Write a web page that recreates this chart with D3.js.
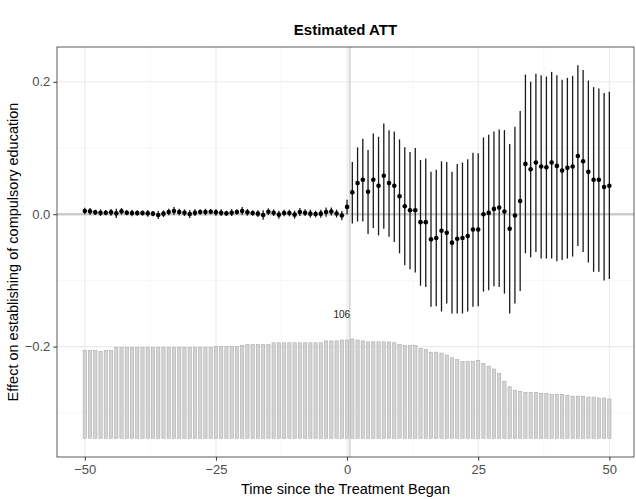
<!DOCTYPE html>
<html><head><meta charset="utf-8">
<script src="https://cdn.jsdelivr.net/npm/d3@7"></script>
<style>body{margin:0;background:#fff}svg{display:block}text{font-family:"Liberation Sans",Arial,Helvetica,sans-serif}</style>
</head><body>
<script>
// ---- data ----
const times = d3.range(-50, 51);
const estimates = [
 0.0048,0.0043,0.0028,0.0023,0.0023,0.0028,0.0013,0.0043,0.0023,0.0018,
 0.0018,0.0018,0.0013,0.0008,-0.0012,0.0008,0.0033,0.0048,0.0033,0.0023,
 0.0003,0.0023,0.0033,0.0033,0.0038,0.0028,0.0023,0.0013,0.0023,0.0033,
 0.0048,0.0028,0.0018,0.0008,-0.0012,0.0038,0.0023,-0.0007,0.0018,0.0018,
 -0.0007,0.0033,0.0023,0.0008,0.0003,0.0008,0.0033,0.004,0.001,-0.002,
 0.011,0.033,0.047,0.052,0.034,0.052,0.043,0.058,0.047,0.043,
 0.027,0.012,0.006,0.006,-0.012,-0.012,-0.038,-0.036,-0.025,-0.028,
 -0.043,-0.037,-0.036,-0.033,-0.023,-0.023,0.000,0.002,0.008,0.010,
 0.004,-0.022,-0.002,0.020,0.076,0.068,0.078,0.072,0.071,0.078,
 0.073,0.066,0.070,0.072,0.088,0.080,0.064,0.052,0.052,0.041,0.043
];
const ciLower = [
 -0.0002,-0.0007,-0.0012,-0.0027,-0.0017,-0.0022,-0.0057,-0.0007,-0.0017,-0.0032,
 -0.0022,-0.0022,-0.0037,-0.0032,-0.0072,-0.0042,-0.0017,-0.0012,-0.0017,-0.0027,
 -0.0057,-0.0027,-0.0007,-0.0017,-0.0002,-0.0022,-0.0027,-0.0027,-0.0027,-0.0007,
 -0.0012,-0.0022,-0.0022,-0.0042,-0.0082,-0.0012,-0.0027,-0.0067,-0.0032,-0.0032,
 -0.0067,-0.0027,-0.0027,-0.0052,-0.0047,-0.0052,-0.0037,-0.002,-0.005,-0.009,
 0.000,-0.014,-0.011,-0.011,-0.030,-0.021,-0.032,-0.022,-0.034,-0.042,
 -0.059,-0.077,-0.083,-0.088,-0.108,-0.110,-0.140,-0.139,-0.147,-0.135,
 -0.150,-0.150,-0.150,-0.147,-0.140,-0.139,-0.117,-0.115,-0.109,-0.110,
 -0.120,-0.150,-0.135,-0.116,-0.059,-0.065,-0.057,-0.067,-0.067,-0.067,
 -0.071,-0.069,-0.067,-0.064,-0.048,-0.057,-0.073,-0.087,-0.087,-0.100,-0.098
];
const ciUpper = [
 0.0098,0.0093,0.0068,0.0073,0.0063,0.0078,0.0083,0.0093,0.0063,0.0068,
 0.0058,0.0058,0.0063,0.0048,0.0048,0.0058,0.0083,0.0108,0.0083,0.0073,
 0.0063,0.0073,0.0073,0.0083,0.0078,0.0078,0.0073,0.0053,0.0073,0.0073,
 0.0108,0.0078,0.0058,0.0058,0.0058,0.0088,0.0073,0.0053,0.0068,0.0068,
 0.0053,0.0093,0.0073,0.0068,0.0053,0.0068,0.0103,0.010,0.007,0.005,
 0.022,0.079,0.101,0.114,0.097,0.122,0.117,0.137,0.127,0.125,
 0.113,0.101,0.094,0.100,0.082,0.084,0.064,0.067,0.080,0.079,
 0.064,0.076,0.078,0.083,0.093,0.092,0.116,0.120,0.125,0.128,
 0.127,0.106,0.132,0.156,0.211,0.200,0.212,0.210,0.208,0.215,
 0.210,0.203,0.206,0.209,0.225,0.218,0.202,0.192,0.190,0.183,0.185
];
const counts = [
 94,94,94,93,94,94,97,97,97,97,
 97,97,97,97,97,97,97,97,97,97,
 97,97,97,97,97,98,98,98,98,98,
 99,100,100,100,100,100,102,102,102,102,
 102,102,102,102,102,102,104,104,104,105,
 105,106,105,104,103,103,103,103,103,102,
 100,99,99,99,96,95,92,92,91,89,
 86,84,82,82,82,83,80,77,74,69,
 61,55,51,50,49,49,49,48,48,47,
 47,47,46,45,45,45,44,44,43,43,42
];
const xTicks = [-50, -25, 0, 25, 50];
const xMinor = [-37.5, -12.5, 12.5, 37.5];
const yTicks = [-0.2, 0.0, 0.2];
const yMinor = [-0.3, -0.1, 0.1];
const titleText = "Estimated ATT";
const xTitle = "Time since the Treatment Began";
const yTitle = "Effect on establishing of compulsory education";

// ---- layout ----
const W = 636, H = 499;
const P = {l: 57, r: 634, t: 47, b: 457};
const svg = d3.select("body").append("svg").attr("width", W).attr("height", H);

const x = d3.scaleLinear().domain([-55.3, 54.7]).range([P.l, P.r]);
const y = d3.scaleLinear().domain([-0.3668, 0.2526]).range([P.b, P.t]);
const barBase = -0.3385, barSpan = 0.1499;
const cScale = d3.scaleLinear().domain([0, d3.max(counts)]).range([y(barBase), y(barBase + barSpan)]);

// grid
const g = svg.append("g");
g.selectAll(".gxm").data(xMinor).join("line")
 .attr("x1", d => x(d)).attr("x2", d => x(d)).attr("y1", P.t).attr("y2", P.b)
 .attr("stroke", "#f2f2f2").attr("stroke-width", 0.6);
g.selectAll(".gym").data(yMinor).join("line")
 .attr("y1", d => y(d)).attr("y2", d => y(d)).attr("x1", P.l).attr("x2", P.r)
 .attr("stroke", "#f2f2f2").attr("stroke-width", 0.6);
g.selectAll(".gx").data(xTicks).join("line")
 .attr("x1", d => x(d)).attr("x2", d => x(d)).attr("y1", P.t).attr("y2", P.b)
 .attr("stroke", "#ebebeb").attr("stroke-width", 1.1);
g.selectAll(".gy").data(yTicks).join("line")
 .attr("y1", d => y(d)).attr("y2", d => y(d)).attr("x1", P.l).attr("x2", P.r)
 .attr("stroke", "#ebebeb").attr("stroke-width", 1.1);

// reference lines
svg.append("line").attr("x1", P.l).attr("x2", P.r).attr("y1", y(0)).attr("y2", y(0))
 .attr("stroke", "#cccccc").attr("stroke-width", 2.4);
svg.append("line").attr("x1", x(0.5)).attr("x2", x(0.5)).attr("y1", P.t).attr("y2", P.b)
 .attr("stroke", "#d9d9d9").attr("stroke-width", 2);

// count bars
const bw = 0.62;
svg.append("g").selectAll("rect").data(times).join("rect")
 .attr("x", d => x(d - bw / 2)).attr("width", x(bw) - x(0))
 .attr("y", (d, i) => cScale(counts[i]))
 .attr("height", (d, i) => cScale(0) - cScale(counts[i]))
 .attr("fill", "#d4d4d4").attr("stroke", "#ababab").attr("stroke-width", 0.6);
const iMax = d3.maxIndex(counts);
svg.append("text").attr("x", x(times[iMax] - 2)).attr("y", cScale(counts[iMax]) - 21)
 .attr("text-anchor", "middle").attr("font-size", 10).attr("fill", "#222")
 .text(d3.max(counts));

// CIs and points
svg.append("g").selectAll("line").data(times).join("line")
 .attr("x1", d => x(d)).attr("x2", d => x(d))
 .attr("y1", (d, i) => y(ciLower[i])).attr("y2", (d, i) => y(ciUpper[i]))
 .attr("stroke", "#1a1a1a").attr("stroke-width", 1.3);
svg.append("g").selectAll("circle").data(times).join("circle")
 .attr("cx", d => x(d)).attr("cy", (d, i) => y(estimates[i])).attr("r", 2.3)
 .attr("fill", "#000");

// panel border
svg.append("rect").attr("x", P.l).attr("y", P.t).attr("width", P.r - P.l).attr("height", P.b - P.t)
 .attr("fill", "none").attr("stroke", "#333").attr("stroke-width", 0.8);

// axes
const xAxis = d3.axisBottom(x).tickValues(xTicks).tickSizeOuter(0).tickSize(3.7).tickPadding(4)
 .tickFormat(d => d < 0 ? "\u2212" + Math.abs(d) : String(d));
const xa = svg.append("g").attr("transform", `translate(0,${P.b})`).call(xAxis);
xa.select(".domain").remove();
xa.selectAll("line").attr("stroke", "#333");
xa.selectAll("text").attr("font-size", 13).attr("fill", "#4d4d4d").attr("font-family", null);

const yAxis = d3.axisLeft(y).tickValues(yTicks).tickSizeOuter(0).tickSize(3.7).tickPadding(3)
 .tickFormat(d => (d < 0 ? "\u2212" : "") + Math.abs(d).toFixed(1));
const ya = svg.append("g").attr("transform", `translate(${P.l},0)`).call(yAxis);
ya.select(".domain").remove();
ya.selectAll("line").attr("stroke", "#333");
ya.selectAll("text").attr("font-size", 13).attr("fill", "#4d4d4d").attr("font-family", null);

// titles
svg.append("text").attr("x", (P.l + P.r) / 2).attr("y", 35).attr("text-anchor", "middle")
 .attr("font-size", 15).attr("font-weight", "bold").text(titleText);
svg.append("text").attr("x", (P.l + P.r) / 2).attr("y", 494).attr("text-anchor", "middle")
 .attr("font-size", 14.5).text(xTitle);
svg.append("text").attr("transform", `translate(18,${(P.t + P.b) / 2}) rotate(-90)`)
 .attr("text-anchor", "middle").attr("font-size", 14.5).text(yTitle);
</script>
</body></html>
